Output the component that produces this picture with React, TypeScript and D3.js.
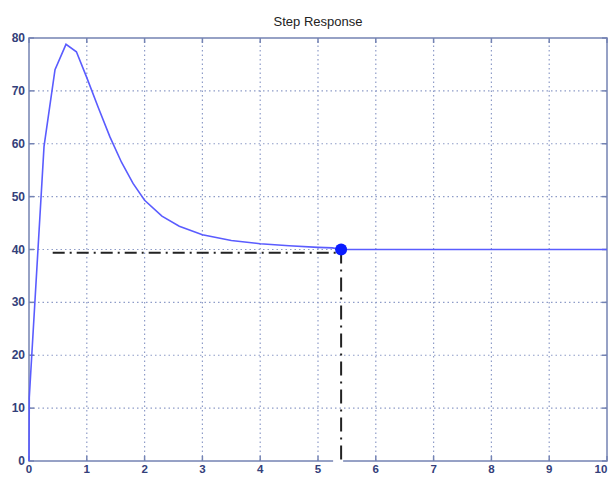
import React from "react";
import { scaleLinear, line } from "d3";

const W = 609, H = 477;
const m = { left: 29, right: 2, top: 38, bottom: 16 };

// step response samples
const times = [0, 0.005, 0.26, 0.45, 0.64, 0.82, 1.0, 1.2, 1.4, 1.6, 1.8, 2.0, 2.3, 2.6, 3.0, 3.5, 4.0, 4.5, 5.0, 5.25, 5.4, 6, 10];
const values = [0, 12, 59.5, 74, 78.8, 77.4, 72.5, 66.8, 61.3, 56.5, 52.5, 49.3, 46.3, 44.4, 42.8, 41.7, 41.1, 40.7, 40.4, 40.3, 40, 40, 40];

const xTicks = [0, 1, 2, 3, 4, 5, 6, 7, 8, 9, 10];
const yTicks = [0, 10, 20, 30, 40, 50, 60, 70, 80];

// settling point marker and its guide lines
const settleT = 5.4, settleV = 40, guideV = 39.4, guideStart = 0.41;

const axisColor = "#7483b3";
const labelColor = "#33407a";
const gridColor = "#8e9cc8";
const curveColor = "#5a5cff";

const App = () => {
  const x = scaleLinear().domain([0, 10]).range([m.left, W - m.right]);
  const y = scaleLinear().domain([0, 80]).range([H - m.bottom, m.top]);

  const pts = times.map((t, i) => [t, values[i]] as [number, number]);
  const path = line<[number, number]>().x(d => x(d[0])).y(d => y(d[1]))(pts);

  const x0 = x(0), x1 = x(10), y0 = y(0), y1 = y(80);
  const font = "'Liberation Sans', Arial, sans-serif";

  return (
    <svg width={W} height={H} style={{ position: "absolute", left: 0, top: 0, background: "#fff" }}>
      {/* grid */}
      {xTicks.slice(1, -1).map(t => (
        <line key={"gx" + t} x1={x(t)} x2={x(t)} y1={y0} y2={y1} stroke={gridColor} strokeWidth={1.2} strokeDasharray="1.5,3" />
      ))}
      {yTicks.slice(1, -1).map(v => (
        <line key={"gy" + v} x1={x0} x2={x1} y1={y(v)} y2={y(v)} stroke={gridColor} strokeWidth={1.2} strokeDasharray="1.5,3" />
      ))}

      {/* box + ticks */}
      <rect x={x0} y={y1} width={x1 - x0} height={y0 - y1} fill="none" stroke={axisColor} strokeWidth={1.5} />
      {xTicks.map(t => (
        <g key={"tx" + t}>
          <line x1={x(t)} x2={x(t)} y1={y0} y2={y0 - 5} stroke={axisColor} strokeWidth={1.5} />
          <line x1={x(t)} x2={x(t)} y1={y1} y2={y1 + 5} stroke={axisColor} strokeWidth={1.5} />
          <text x={Math.min(x(t), W - 8)} y={H - 4} textAnchor="middle" fontFamily={font} fontSize={11.5} fontWeight={600} fill={labelColor}>{t}</text>
        </g>
      ))}
      {yTicks.map(v => (
        <g key={"ty" + v}>
          <line x1={x0} x2={x0 + 5} y1={y(v)} y2={y(v)} stroke={axisColor} strokeWidth={1.5} />
          <line x1={x1} x2={x1 - 5} y1={y(v)} y2={y(v)} stroke={axisColor} strokeWidth={1.5} />
          <text x={x0 - 4} y={y(v) + 4} textAnchor="end" fontFamily={font} fontSize={12} fontWeight={600} fill={labelColor}>{v}</text>
        </g>
      ))}

      {/* gap in the bottom axis under the marker */}
      <rect x={x(settleT) - 8} y={y0 - 1} width={10} height={3} fill="#fff" />

      {/* curve */}
      <path d={path ?? ""} fill="none" stroke={curveColor} strokeWidth={1.6} />

      {/* guides */}
      <line x1={x(guideStart)} x2={x(settleT)} y1={y(guideV)} y2={y(guideV)} stroke="#222" strokeWidth={2} strokeDasharray="12,5,2,5" />
      <line x1={x(settleT)} x2={x(settleT)} y1={y(settleV)} y2={y0} stroke="#222" strokeWidth={2} strokeDasharray="14,6,2,6" />
      <circle cx={x(settleT)} cy={y(settleV)} r={6} fill="#0a1cff" />

      <text x={(x0 + x1) / 2} y={26} textAnchor="middle" fontFamily={font} fontSize={13} fill="#222">Step Response</text>
    </svg>
  );
};

export default App;
